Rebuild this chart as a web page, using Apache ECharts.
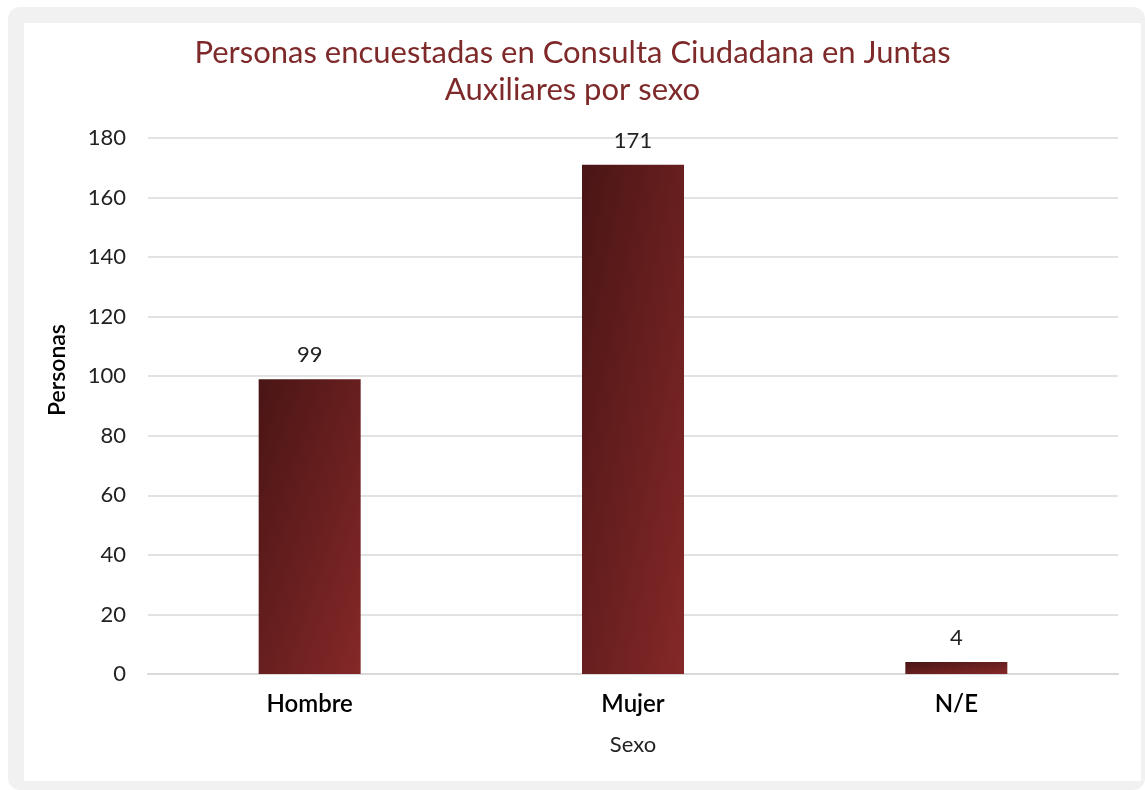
<!DOCTYPE html>
<html>
<head>
<meta charset="utf-8">
<script src="https://cdn.jsdelivr.net/npm/echarts@6/dist/echarts.min.js"></script>
<style>
  html, body { margin: 0; padding: 0; background: #ffffff; }
  #chart { width: 1145px; height: 790px; }
</style>
</head>
<body>
<div id="chart"></div>
<script>
// Encuestados por sexo
const categories = ['Hombre', 'Mujer', 'N/E'];
const personas = [99, 171, 4];
const yTicks = { min: 0, max: 180, interval: 20 };

const titleText = 'Personas encuestadas en Consulta Ciudadana en Juntas\nAuxiliares por sexo';
const FONT = 'Lato, "Noto Sans", sans-serif';
const BAR_W = 102;
const DARK = '#4a1515';
const LIGHT = '#852828';

// Diagonal fill scaled to each bar's box: colour bands run parallel to the
// box's anti-diagonal, so the direction vector is (h, w) in pixel space.
function diagonalFill(w, h) {
  const d = h * h + w * w || 1;
  return new echarts.graphic.LinearGradient(0, 0, 2 * h * h / d, 2 * w * w / d, [
    { offset: 0, color: DARK },
    { offset: 1, color: LIGHT }
  ]);
}

const chart = echarts.init(document.getElementById('chart'), null, { renderer: 'canvas' });
const option = {
  backgroundColor: '#ffffff',
  animation: false,
  graphic: [
    { type: 'rect', z: -10, shape: { x: 8, y: 7, width: 1137, height: 783, r: 12 }, style: { fill: '#f1f1f1' } },
    { type: 'rect', z: -9, shape: { x: 24, y: 23, width: 1117, height: 758 }, style: { fill: '#ffffff' } },
    {
      type: 'text', x: 58, y: 370, rotation: Math.PI / 2,
      style: {
        text: 'Personas', fill: '#000', font: '600 23px ' + FONT,
        align: 'center', verticalAlign: 'middle'
      }
    }
  ],
  title: {
    text: titleText,
    left: 'center',
    top: 29,
    textStyle: { color: '#7f2a2a', fontFamily: FONT, fontSize: 31, fontWeight: 'normal', lineHeight: 37 }
  },
  grid: { left: 148, right: 27, top: 138, bottom: 116, containLabel: false },
  xAxis: {
    type: 'category',
    data: categories,
    name: 'Sexo',
    nameLocation: 'middle',
    nameGap: 60,
    nameTextStyle: { color: '#222', fontFamily: FONT, fontSize: 22 },
    axisLine: { show: true, lineStyle: { color: '#d9d9d9', width: 2 } },
    axisTick: { show: false },
    axisLabel: { color: '#000', fontFamily: FONT, fontSize: 24, fontWeight: 600, margin: 18 }
  },
  yAxis: {
    type: 'value',
    min: yTicks.min,
    max: yTicks.max,
    interval: yTicks.interval,
    axisLine: { show: false },
    axisTick: { show: false },
    axisLabel: { color: '#222', fontFamily: FONT, fontSize: 22, margin: 22 },
    splitLine: { lineStyle: { color: '#d9d9d9', width: 1.5 } }
  },
  series: [{
    type: 'bar',
    data: personas,
    barWidth: BAR_W,
    itemStyle: { color: DARK },
    label: {
      show: true,
      position: 'top',
      distance: 13,
      color: '#222',
      fontFamily: FONT,
      fontSize: 22
    }
  }]
};
chart.setOption(option);

// Once the scale exists, give every bar its own box-scaled gradient.
const base = chart.convertToPixel({ yAxisIndex: 0 }, 0);
chart.setOption({
  series: [{
    data: personas.map(v => {
      const h = base - chart.convertToPixel({ yAxisIndex: 0 }, v);
      return { value: v, itemStyle: { color: diagonalFill(BAR_W, h) } };
    })
  }]
});
</script>
</body>
</html>
